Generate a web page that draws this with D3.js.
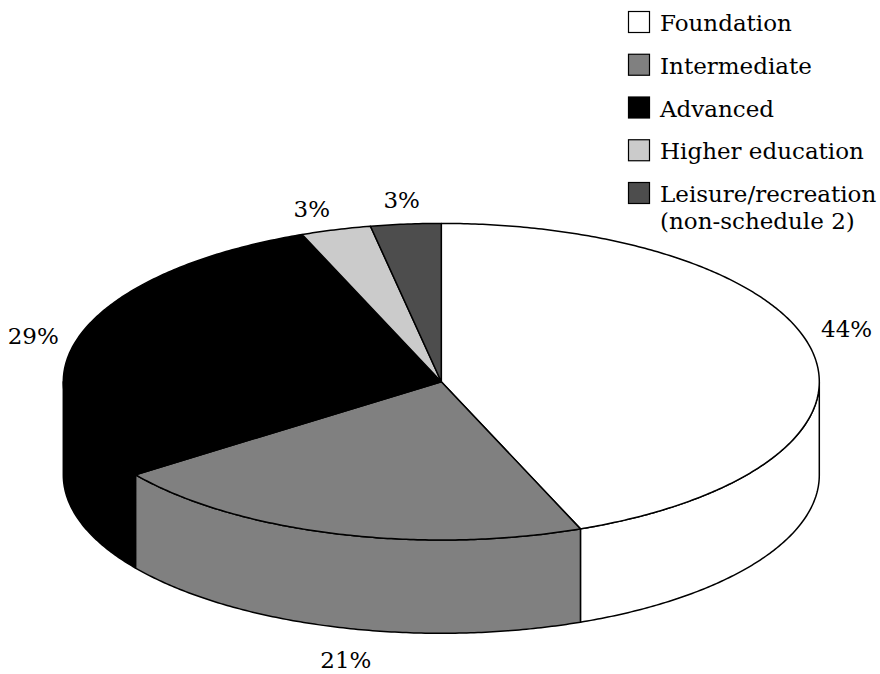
<!DOCTYPE html>
<html>
<head>
<meta charset="utf-8">
<script src="https://cdn.jsdelivr.net/npm/d3@7"></script>
<style>
  html, body { margin: 0; padding: 0; background: #fff; }
  svg { display: block; }
  text { font-family: "DejaVu Serif", "Liberation Serif", serif; fill: #000; }
</style>
</head>
<body>
<svg id="chart" width="880" height="674"></svg>
<script>
// Share of provision by level (percent)
const categories = ["Foundation", "Intermediate", "Advanced", "Higher education", "Leisure/recreation (non-schedule 2)"];
const legendLines = [["Foundation"], ["Intermediate"], ["Advanced"], ["Higher education"], ["Leisure/recreation", "(non-schedule 2)"]];
const shares = [44, 21, 29, 3, 3];
const sliceLabels = ["44%", "21%", "29%", "3%", "3%"];

// Layout of the tilted pie
const cx = 441.3, cy = 381.7, rx = 378, ry = 158.3, depth = 93.3;
// label nudges away from the rim point at each slice's mid-angle
const labelShift = [[34, -23], [10, 33], [-45, -2], [-24, -21], [-4, -24]];

const color = d3.scaleOrdinal()
  .domain(categories)
  .range(["#ffffff", "#808080", "#000000", "#cbcbcb", "#4d4d4d"]);

const svg = d3.select("#chart");
svg.append("rect").attr("width", 880).attr("height", 674).attr("fill", "#fff");

const pie = d3.pie().sort(null).value(d => d.value).startAngle(0).endAngle(2 * Math.PI);
const arcs = pie(categories.map((c, i) => ({ name: c, value: shares[i], label: sliceLabels[i] })));

// point on the rim; angle measured clockwise from 12 o'clock
const rim = (a, dz = 0) => [cx + rx * Math.sin(a), cy - ry * Math.cos(a) + dz];
const line = d3.line();
const sample = (a0, a1) => {
  const n = Math.max(2, Math.ceil(Math.abs(a1 - a0) / 0.01));
  return d3.range(n + 1).map(k => a0 + (a1 - a0) * k / n);
};

// side walls: only the front half of the rim (90°..270°) is visible
const frontStart = Math.PI / 2, frontEnd = 3 * Math.PI / 2;
const sides = svg.append("g");
arcs.forEach(d => {
  const a0 = Math.max(d.startAngle, frontStart);
  const a1 = Math.min(d.endAngle, frontEnd);
  if (a1 <= a0) return;
  const top = sample(a0, a1).map(a => rim(a));
  const bottom = sample(a1, a0).map(a => rim(a, depth));
  sides.append("path")
    .attr("d", line(top.concat(bottom)) + "Z")
    .attr("fill", color(d.data.name))
    .attr("stroke", "#000")
    .attr("stroke-width", 1.5)
    .attr("stroke-linejoin", "round");
});

// top faces
const tops = svg.append("g");
arcs.forEach(d => {
  const pts = [[cx, cy]].concat(sample(d.startAngle, d.endAngle).map(a => rim(a)));
  tops.append("path")
    .attr("d", line(pts) + "Z")
    .attr("fill", color(d.data.name))
    .attr("stroke", "#000")
    .attr("stroke-width", 1.5)
    .attr("stroke-linejoin", "round");
});

// percentage labels
const labels = svg.append("g").attr("font-size", 23);
arcs.forEach((d, i) => {
  const m = (d.startAngle + d.endAngle) / 2;
  const front = Math.cos(m) < 0;
  const p = rim(m, front ? depth : 0);
  labels.append("text")
    .attr("x", p[0] + labelShift[i][0])
    .attr("y", p[1] + labelShift[i][1])
    .attr("dy", "0.35em")
    .attr("text-anchor", "middle")
    .text(d.data.label);
});

// legend
const legend = svg.append("g").attr("font-size", 23);
const rowY = d3.scalePoint().domain(categories).range([31, 202]);
categories.forEach((c, i) => {
  const y = rowY(c);
  legend.append("rect")
    .attr("x", 628.5).attr("y", y - 19.5)
    .attr("width", 21).attr("height", 21)
    .attr("fill", color(c))
    .attr("stroke", "#000").attr("stroke-width", 1.2);
  legendLines[i].forEach((t, j) => {
    legend.append("text")
      .attr("x", 660).attr("y", y + j * 27)
      .text(t);
  });
});
</script>
</body>
</html>
